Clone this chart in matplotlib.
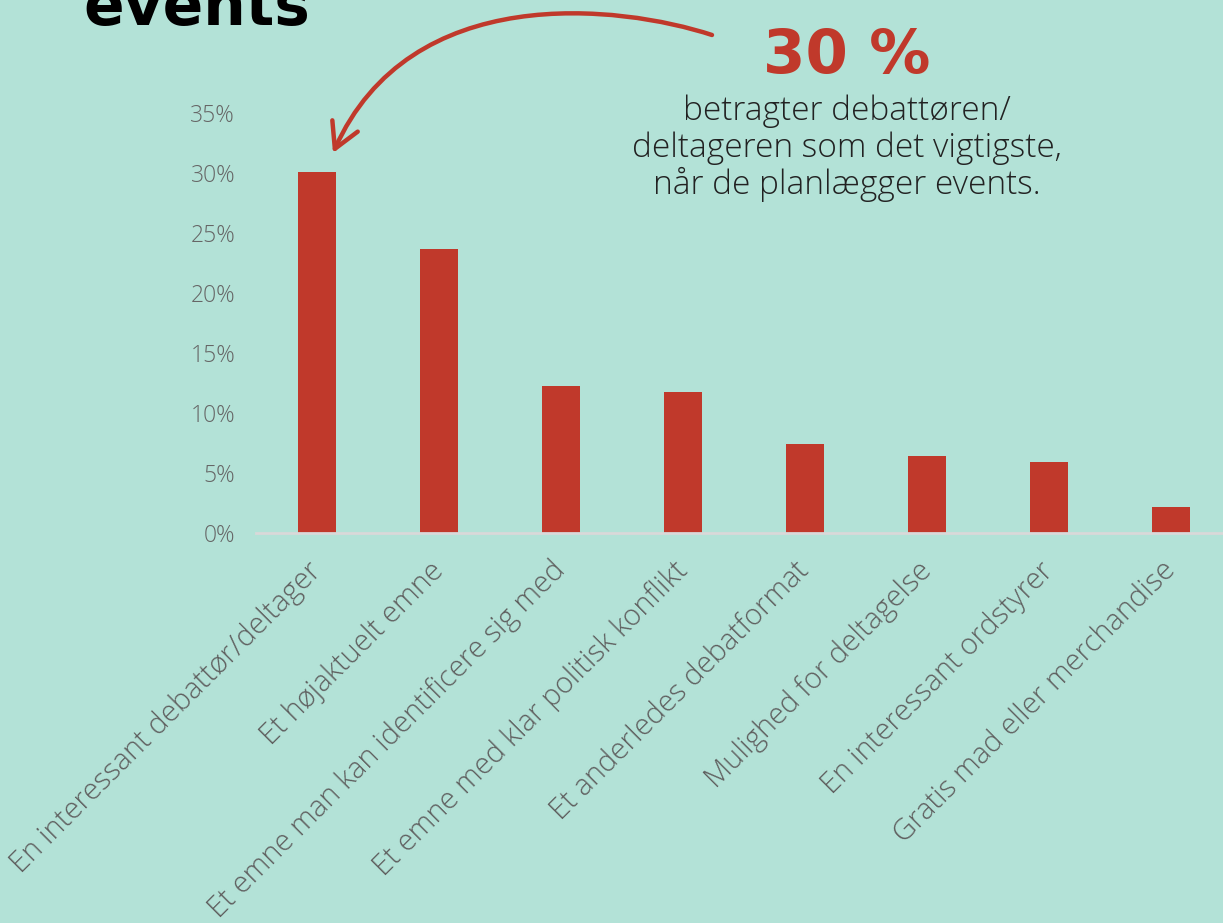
import matplotlib.pyplot as plt
import numpy as np
from matplotlib.patches import FancyArrowPatch
from matplotlib.path import Path
from matplotlib.transforms import Affine2D

W, H = 1223, 923
BG = '#b3e2d7'
RED = '#c0392b'
GREY = '#5f5f5f'

categories = [
    'En interessant debattør/deltager',
    'Et højaktuelt emne',
    'Et emne man kan identificere sig med',
    'Et emne med klar politisk konflikt',
    'Et anderledes debatformat',
    'Mulighed for deltagelse',
    'En interessant ordstyrer',
    'Gratis mad eller merchandise',
]
values = [30.1, 23.7, 12.25, 11.75, 7.4, 6.4, 5.9, 2.2]
y_ticks = [0, 5, 10, 15, 20, 25, 30, 35]

plt.rcParams['font.family'] = ['Open Sans', 'DejaVu Sans']

fig = plt.figure(figsize=(W / 100, H / 100), dpi=100, facecolor=BG)
ax = fig.add_axes([256 / W, (H - 533) / H, 976 / W, 420 / H])
ax.set_facecolor(BG)

x = np.arange(len(categories))
ax.bar(x, values, width=0.31, color=RED, zorder=2)

ax.set_xlim(-0.5, len(categories) - 0.5)
ax.set_ylim(0, 35)
ax.set_yticks(y_ticks)
ax.set_yticklabels([f'{t}%' for t in y_ticks], fontsize=16.5, color='#666666', fontweight='light')
ax.set_xticks(x)
ax.set_xticklabels(categories, rotation=45, ha='right', va='center', rotation_mode='anchor',
                   fontsize=21, color=GREY, fontweight='light')
ax.tick_params(axis='both', length=0)
ax.tick_params(axis='y', pad=15)
ax.tick_params(axis='x', pad=24)
for side in ['top', 'right', 'left']:
    ax.spines[side].set_visible(False)
ax.spines['bottom'].set_color('#d9d9d9')
ax.spines['bottom'].set_linewidth(2)

# title, cut off at the top like the original
fig.text(83 / W, 1 - 25 / H, 'events', fontsize=43, fontweight='bold',
         family='DejaVu Sans', color='black', ha='left', va='baseline')

# annotation
fig.text(847 / W, 1 - 73 / H, '30 %', fontsize=44, fontweight='bold',
         family='DejaVu Sans', color=RED, ha='center', va='baseline')
fig.text(847 / W, 1 - 95 / H,
         'betragter debattøren/\ndeltageren som det vigtigste,\nnår de planlægger events.',
         fontsize=24, fontweight='light', color='#222222', ha='center', va='top',
         linespacing=1.1)

# curved arrow, drawn in image pixel coordinates
img_to_fig = Affine2D().scale(1 / W, -1 / H).translate(0, 1) + fig.transFigure
arrow_path = Path([(712, 35), (620, 5), (410, -20), (333, 153)],
                  [Path.MOVETO, Path.CURVE4, Path.CURVE4, Path.CURVE4])
arrow = FancyArrowPatch(path=img_to_fig.transform_path(arrow_path),
                        arrowstyle='->,head_length=0.9,head_width=0.5',
                        mutation_scale=20, color=RED, lw=3.2)
fig.patches.append(arrow)

fig.savefig('out.png', dpi=100, facecolor=BG)
